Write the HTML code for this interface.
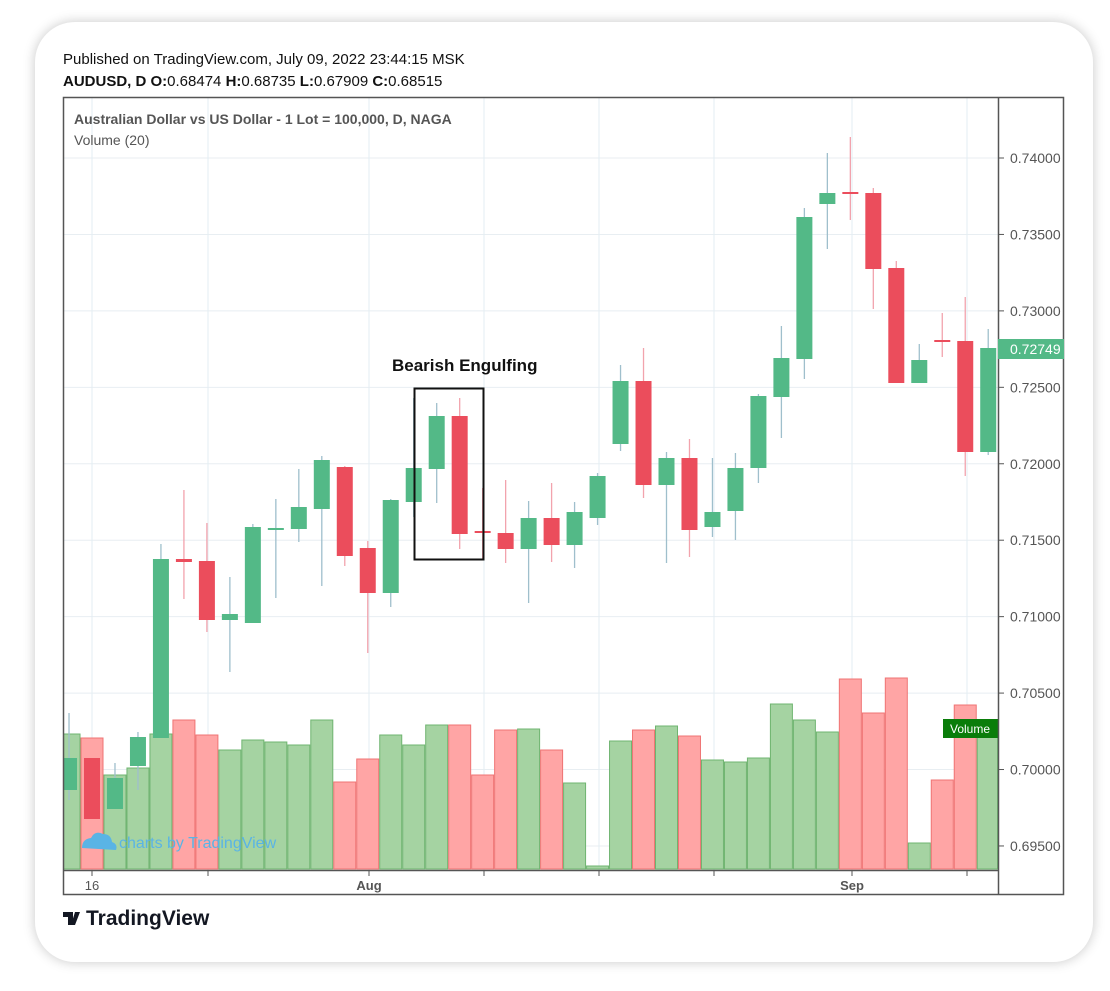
<!DOCTYPE html>
<html><head><meta charset="utf-8"><style>
html,body{margin:0;padding:0;background:#fff;}
body{width:1110px;height:991px;position:relative;overflow:hidden;font-family:"Liberation Sans",sans-serif;}
.card{position:absolute;left:35px;top:22px;width:1058px;height:940px;background:#fff;border-radius:40px;box-shadow:0 0 12px rgba(0,0,0,0.22);}
</style></head><body>
<div class="card"></div>
<svg id="s" width="1110" height="991" style="position:absolute;left:0;top:0" xmlns="http://www.w3.org/2000/svg" font-family="Liberation Sans, sans-serif">
<text x="63" y="64" font-size="15" fill="#111">Published on TradingView.com, July 09, 2022 23:44:15 MSK</text>
<text x="63" y="86" font-size="15" fill="#111"><tspan font-weight="bold">AUDUSD, D O:</tspan>0.68474 <tspan font-weight="bold">H:</tspan>0.68735 <tspan font-weight="bold">L:</tspan>0.67909 <tspan font-weight="bold">C:</tspan>0.68515</text>
<g id="grid"></g>
<g id="vol"></g>
<g id="cdl"></g>
<text x="74" y="124" font-size="14" font-weight="bold" fill="#555">Australian Dollar vs US Dollar - 1 Lot = 100,000, D, NAGA</text>
<text x="74" y="145" font-size="14" fill="#555">Volume (20)</text>
<text x="392" y="371" font-size="17" font-weight="bold" fill="#111">Bearish Engulfing</text>
<rect x="414.5" y="388.5" width="69" height="171" fill="none" stroke="#111" stroke-width="2"/>
<g fill="#5ab4e5"><path d="M82 848 q0-9 9-10 q4-8 12-4 q8 0 9 8 q6 2 4 8 z" fill="#5ab4e5"/></g>
<text x="119" y="848" font-size="16" fill="#5ab4e5">charts by TradingView</text>
<rect x="943" y="719" width="55" height="19" fill="#0a7d0a"/>
<text x="970" y="733" font-size="12" fill="#fff" text-anchor="middle">Volume</text>
<rect x="63.5" y="97.5" width="1000" height="797" fill="none" stroke="#555" stroke-width="1.5"/>
<line x1="998.5" y1="97" x2="998.5" y2="895" stroke="#555" stroke-width="1.5"/>
<line x1="63" y1="870.5" x2="998" y2="870.5" stroke="#555" stroke-width="1.5"/>
<g id="axis" font-size="14" fill="#555"></g>
<rect x="998" y="339" width="66" height="20" fill="#53b987"/>
<text x="1010" y="354" font-size="14" fill="#fff">0.72749</text>
<text x="92" y="890" font-size="13" fill="#555" text-anchor="middle">16</text>
<text x="369" y="890" font-size="13" font-weight="bold" fill="#555" text-anchor="middle">Aug</text>
<text x="852" y="890" font-size="13" font-weight="bold" fill="#555" text-anchor="middle">Sep</text>
<g transform="translate(63,909)"><path d="M0 3h10v13h-5v-8h-5z M12 3h5l-5 13h-4z" fill="#131722"/><circle cx="13" cy="6" r="0" /></g>
<text x="86" y="925" font-size="21" font-weight="bold" fill="#131722">TradingView</text>
</svg>
<script>
var NS="http://www.w3.org/2000/svg";
function el(p,t,a){var e=document.createElementNS(NS,t);for(var k in a)e.setAttribute(k,a[k]);document.getElementById(p).appendChild(e);return e;}
var prices=["0.74000","0.73500","0.73000","0.72500","0.72000","0.71500","0.71000","0.70500","0.70000","0.69500"];
for(var i=0;i<10;i++){var y=158+i*76.44;
 el("grid","line",{x1:63,x2:998,y1:y,y2:y,stroke:"#e8eef2","stroke-width":1});
 el("axis","line",{x1:998,x2:1004,y1:y,y2:y,stroke:"#555"});
 var t=el("axis","text",{x:1010,y:y+5});t.textContent=prices[i];}
[92,208,369,484,599,714,852,967].forEach(function(x){
 el("grid","line",{x1:x,x2:x,y1:97,y2:870,stroke:"#e3edf3","stroke-width":1});
 el("axis","line",{x1:x,x2:x,y1:870,y2:876,stroke:"#555"});});
var vt=[734,738,775,768,734,720,735,750,740,742,745,720,782,759,735,745,725,725,775,730,729,750,783,866,741,730,726,736,760,762,758,704,720,732,679,713,678,843,780,705,728];
var C=[
[758,790,713,800,"g"],[758,819,758,819,"r"],[778,809,763,809,"g"],[737,766,732,790,"g"],[559,738,544,738,"g"],
[559,562,490,599,"r"],[561,620,523,632,"r"],[614,620,577,672,"g"],[527,623,524,623,"g"],[528,529,499,598,"g"],
[507,529,469,542,"g"],[460,509,456,586,"g"],[467,556,466,566,"r"],[548,593,541,653,"r"],[500,593,499,607,"g"],
[468,502,398,517,"g"],[416,469,403,503,"g"],[416,534,398,549,"r"],[531,533,488,560,"r"],[533,549,480,563,"r"],
[518,549,501,603,"g"],[518,545,483,562,"r"],[512,545,502,568,"g"],[476,518,473,525,"g"],[381,444,365,451,"g"],
[381,485,348,498,"r"],[458,485,452,563,"g"],[458,530,439,557,"r"],[512,527,458,537,"g"],[468,511,453,540,"g"],
[396,468,394,483,"g"],[358,397,326,438,"g"],[217,359,208,379,"g"],[193,204,153,249,"g"],[192,194,137,220,"r"],
[193,269,188,309,"r"],[268,383,261,383,"r"],[360,383,344,383,"g"],[340,342,313,357,"r"],[341,452,297,476,"r"],[348,452,329,455,"g"]];
for(var i=0;i<41;i++){
 var cx=92+22.98*(i-1), c=C[i], g=c[4]=="g";
 var x0=Math.max(63,cx-11.5), x1=Math.min(998,cx+11.5);
 el("vol","rect",{x:x0+0.5,y:vt[i],width:x1-x0-1,height:869-vt[i],fill:g?"#a5d3a2":"#ffa5a5",stroke:g?"#6fb470":"#ef7474","stroke-width":1});
 el("cdl","line",{x1:cx,x2:cx,y1:c[2],y2:c[3],stroke:g?"#9fbfcc":"#f2a3ad","stroke-width":1.3});
 var bx=Math.max(63,cx-8);
 el("cdl","rect",{x:bx,y:c[0],width:cx+8-bx,height:Math.max(2,c[1]-c[0]),fill:g?"#53b987":"#eb4d5c"});
}
</script>
</body></html>
